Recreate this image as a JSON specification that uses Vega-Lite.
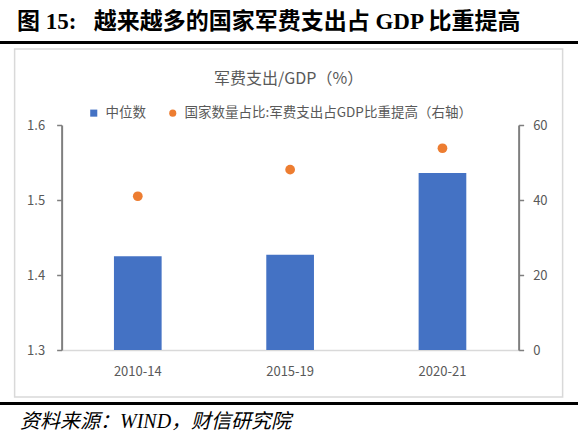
{
  "$schema": "https://vega.github.io/schema/vega-lite/v6.json",
  "padding": {"top": 11, "left": 0, "right": 6, "bottom": 0},
  "background": "white",
  "spacing": 4,
  "center": true,
  "config": {
    "font": "Noto Sans CJK SC",
    "view": {"stroke": null},
    "axis": {
      "labelFont": "Noto Sans CJK SC",
      "labelFontSize": 13,
      "labelColor": "#595959",
      "grid": false,
      "title": null
    }
  },
  "vconcat": [
    {
      "width": 578,
      "height": 3,
      "view": {"fill": "#000000", "stroke": null},
      "title": {
        "text": "图 15:\u2002\u00a0越来越多的国家军费支出占 GDP 比重提高",
        "anchor": "start",
        "frame": "group",
        "font": "Liberation Serif, Noto Sans CJK SC",
        "fontSize": 23,
        "fontWeight": "bold",
        "color": "#000000",
        "offset": 7,
        "dx": 17
      },
      "data": {"values": []},
      "mark": "rect",
      "encoding": {}
    },
    {
      "width": 548,
      "height": 348,
      "view": {"stroke": "#D9D9D9", "strokeWidth": 1.5},
      "title": {
        "text": "军费支出/GDP（%）",
        "anchor": "middle",
        "frame": "group",
        "font": "Noto Sans CJK SC",
        "fontSize": 16,
        "fontWeight": "normal",
        "color": "#595959",
        "offset": -38
      },
      "data": {
        "values": [
          {"period": "2010-14", "median": 1.425, "share": 41.0},
          {"period": "2015-19", "median": 1.427, "share": 48.1},
          {"period": "2020-21", "median": 1.536, "share": 53.8}
        ]
      },
      "layer": [
        {
          "mark": {"type": "bar"},
          "encoding": {
            "x": {
              "field": "period",
              "type": "nominal",
              "sort": null,
              "scale": {"range": [47, 504], "paddingInner": 0.687, "paddingOuter": 0.3435},
              "axis": {
                "offset": -47,
                "domainColor": "#D9D9D9",
                "domainWidth": 1.5,
                "ticks": false,
                "labelPadding": 15,
                "labelAngle": 0
              }
            },
            "y": {
              "field": "median",
              "type": "quantitative",
              "scale": {"domain": [1.3, 1.6], "range": [301, 76], "nice": false, "zero": false},
              "axis": {
                "orient": "left",
                "offset": -47,
                "values": [1.3, 1.4, 1.5, 1.6],
                "format": ".1f",
                "domainColor": "#7F7F7F",
                "domainWidth": 2,
                "tickColor": "#7F7F7F",
                "tickWidth": 1.5,
                "tickSize": 5,
                "labelPadding": 12
              }
            },
            "y2": {"datum": 1.3},
            "color": {
              "datum": "中位数",
              "type": "nominal",
              "scale": {
                "domain": ["中位数", "国家数量占比:军费支出占GDP比重提高（右轴）"],
                "range": ["#4472C4", "#ED7D31"]
              },
              "legend": {
                "orient": "none",
                "legendX": 87,
                "legendY": 65,
                "direction": "horizontal",
                "title": null,
                "padding": 0,
                "labelFont": "Noto Sans CJK SC",
                "labelFontSize": 13.5,
                "labelColor": "#595959",
                "labelLimit": 0,
                "symbolSize": 50,
                "labelOffset": 5,
                "columnPadding": 20
              }
            }
          }
        },
        {
          "mark": {"type": "point", "filled": true, "opacity": 1, "size": 95},
          "encoding": {
            "x": {"field": "period", "type": "nominal", "sort": null},
            "y": {
              "field": "share",
              "type": "quantitative",
              "scale": {"domain": [0, 60], "range": [301, 76], "nice": false},
              "axis": {
                "orient": "right",
                "offset": -44,
                "values": [0, 20, 40, 60],
                "domainColor": "#7F7F7F",
                "domainWidth": 2,
                "tickColor": "#7F7F7F",
                "tickWidth": 1.5,
                "tickSize": 5,
                "labelPadding": 9
              }
            },
            "color": {"datum": "国家数量占比:军费支出占GDP比重提高（右轴）", "type": "nominal"},
            "shape": {
              "datum": "国家数量占比:军费支出占GDP比重提高（右轴）",
              "type": "nominal",
              "scale": {
                "domain": ["中位数", "国家数量占比:军费支出占GDP比重提高（右轴）"],
                "range": ["square", "circle"]
              },
              "legend": {
                "orient": "none",
                "legendX": 87,
                "legendY": 65,
                "direction": "horizontal",
                "title": null,
                "padding": 0,
                "labelFont": "Noto Sans CJK SC",
                "labelFontSize": 13.5,
                "labelColor": "#595959",
                "labelLimit": 0,
                "symbolSize": 50,
                "labelOffset": 5,
                "columnPadding": 20
              }
            }
          }
        }
      ],
      "resolve": {"scale": {"y": "independent"}}
    },
    {
      "width": 578,
      "height": 3,
      "view": {"fill": "#000000", "stroke": null},
      "title": {
        "text": "资料来源：WIND，财信研究院",
        "orient": "bottom",
        "anchor": "start",
        "frame": "group",
        "font": "Liberation Serif, Noto Sans CJK SC",
        "fontSize": 20,
        "fontStyle": "italic",
        "fontWeight": "normal",
        "color": "#000000",
        "offset": 7,
        "dx": 20
      },
      "data": {"values": []},
      "mark": "rect",
      "encoding": {}
    }
  ]
}
